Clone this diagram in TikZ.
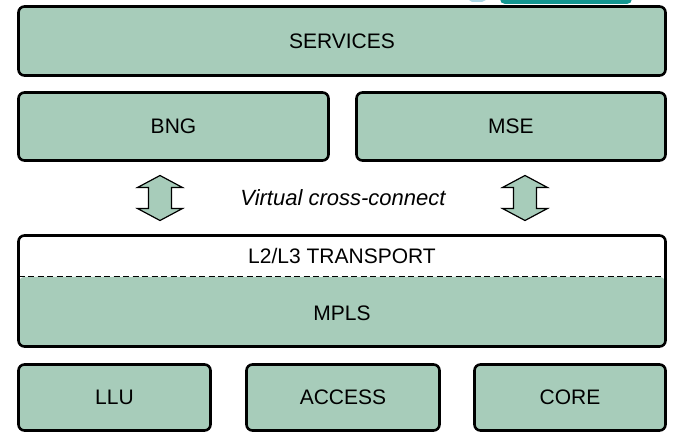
\documentclass[tikz,border=0pt]{standalone}
\usepackage{fontspec}
\setmainfont{Liberation Sans}
\usetikzlibrary{positioning}
\definecolor{layergreen}{RGB}{167,204,186}
\definecolor{logoteal}{RGB}{20,150,145}
\definecolor{logoblue}{RGB}{170,215,230}
\tikzset{
    %Define style for layer boxes
    layer/.style={
           rectangle,
           rounded corners=6pt,
           draw=black, line width=2.6pt,
           fill=layergreen,
           outer sep=0pt,
           inner sep=0pt,
           font=\fontsize{21}{24}\selectfont},
    % Define style for the cross-connect arrows
    xarrow/.style={
           fill=layergreen,
           draw=black, line width=1.2pt,
           line join=miter},
    % Define style for plain text
    plain/.style={font=\fontsize{21}{24}\selectfont, inner sep=0pt}
}
\begin{document}
\begin{tikzpicture}[x=1pt, y=-1pt]
  \useasboundingbox (0,0) rectangle (673,433);
  % cut-off shape at the top edge
  \fill[logoteal, rounded corners=5pt] (500,-20) rectangle (632,4);
  \fill[logoblue] (466,-2) -- (490,-2) -- (482,2) -- (472,2) -- cycle;

  \node[layer, minimum width=647pt, minimum height=69pt] (services) at (342,41) {SERVICES};
  \node[layer, minimum width=310pt, minimum height=68pt] (bng) [below right=17pt and 0pt of services.south west] {BNG};
  \node[layer, minimum width=309pt, minimum height=68pt] (mse) [right=28pt of bng] {MSE};

  \node[layer, fill=white, minimum width=647pt, minimum height=111pt,
        path picture={\fill[layergreen] ([yshift=-41.5pt]path picture bounding box.north west)
                      rectangle (path picture bounding box.south east);}]
        (transport) [below right=75pt and 0pt of bng.south west] {};
  \draw[line width=1pt, dash pattern=on 6pt off 3.5pt]
        ([yshift=-41.5pt]transport.north west) -- ([yshift=-41.5pt]transport.north east);
  \node[plain] (l2l3) at ([yshift=-20pt]transport.north) {L2/L3 TRANSPORT};
  \node[plain] (mpls) at ([yshift=-77.5pt]transport.north) {MPLS};

  \node[layer, minimum width=192pt, minimum height=66pt] (llu) [below right=18pt and 0pt of transport.south west] {LLU};
  \node[layer, minimum width=193pt, minimum height=66pt] (access) [right=36pt of llu] {ACCESS};
  \node[layer, minimum width=191pt, minimum height=66pt] (core) [right=35pt of access] {CORE};

  % cross-connect arrows
  \coordinate (lx) at (160,198);
  \coordinate (rx) at (525,198);
  \foreach \c in {lx,rx}
    \draw[xarrow, shift={(\c)}] (0,-22.5) -- (22.5,-10.5) -- (11.5,-10.5) -- (11.5,10.5)
      -- (22.5,10.5) -- (0,22.5) -- (-22.5,10.5) -- (-11.5,10.5) -- (-11.5,-10.5)
      -- (-22.5,-10.5) -- cycle;
  \node[plain, font=\fontsize{22}{25}\selectfont\itshape] (xconn) at (343,198) {Virtual cross-connect};
\end{tikzpicture}
\end{document}
